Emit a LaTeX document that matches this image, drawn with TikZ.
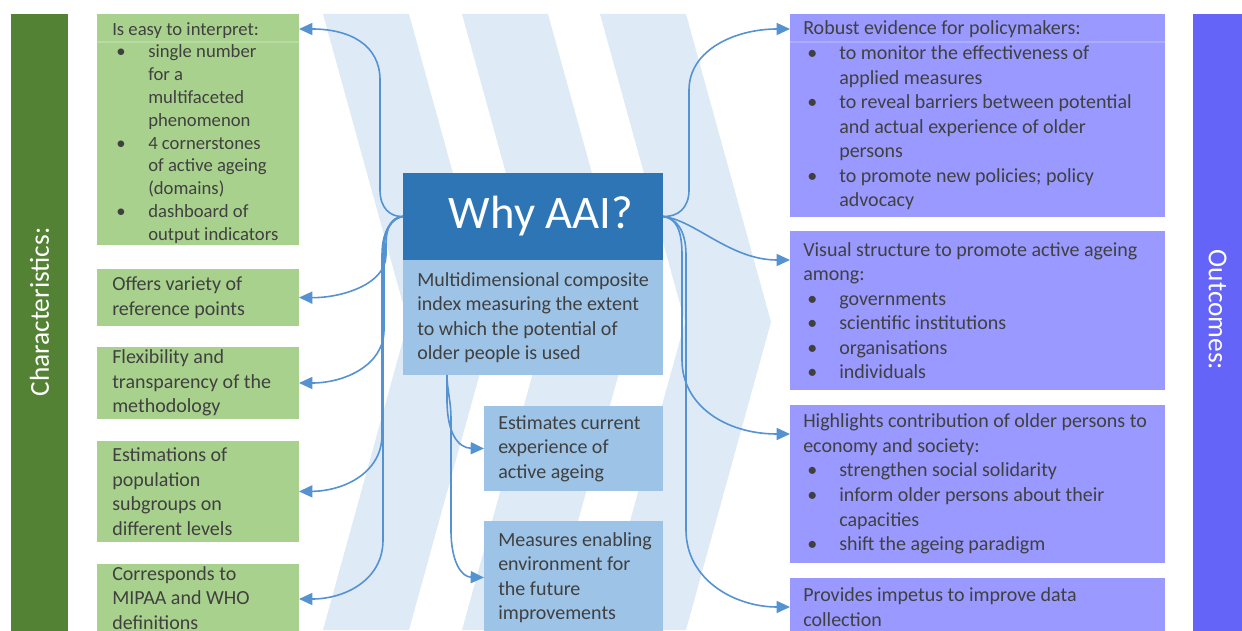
\documentclass[tikz,border=0pt]{standalone}
\usepackage{fontspec}
\setmainfont{Carlito}
\usetikzlibrary{arrows.meta}
\definecolor{dgreen}{HTML}{548235}
\definecolor{lgreen}{HTML}{A9D18E}
\definecolor{purp}{HTML}{9999FF}
\definecolor{dpurp}{HTML}{6464F8}
\definecolor{whyblue}{HTML}{2E75B6}
\definecolor{lblue}{HTML}{9DC3E6}
\definecolor{chev}{HTML}{DEEBF7}
\definecolor{arrc}{HTML}{5592D2}
\definecolor{txtc}{HTML}{404040}
\newcommand\bul{\makebox[27pt][l]{\hspace{3pt}\textbullet}}
\newcommand\ind{\hspace*{27pt}}
\begin{document}
\begin{tikzpicture}[x=0.75pt,y=-0.75pt,
  box/.style={anchor=north west, inner sep=0pt, outer sep=0pt, draw=none},
  gbox/.style={box, fill=lgreen, minimum width=151.5pt},
  pbox/.style={box, fill=purp, minimum width=281.25pt},
  bbox/.style={box, fill=lblue},
  txt/.style={anchor=west, inner sep=0pt, align=left, text=txtc, font=\fontsize{15pt}{18.4pt}\selectfont},
  side/.style={text=white, inner sep=0pt, font=\fontsize{20.5pt}{24pt}\selectfont},
  arr/.style={draw=arrc, line width=1.2pt, -{Triangle[length=10pt,width=9pt]}},
  divider/.style={draw=white, opacity=0.2, line width=0.8pt}]
\path[use as bounding box] (0,0) rectangle (1242,631);
\clip (0,0) rectangle (1242,631);
\fill[white] (0,0) rectangle (1242,631);
% background chevrons
\foreach \L in {323,462,600}{
  \fill[chev] (\L,14) -- ++(86,0) -- ++(85,308) -- ++(-85,308) -- ++(-86,0) -- ++(85,-308) -- cycle;
}
% side bars
\node[box, fill=dgreen, minimum width=42.75pt, minimum height=465pt] (barL) at (11,14) {};
\node[box, fill=dpurp, minimum width=40pt, minimum height=465pt] (barR) at (1193,14) {};
\node[side, rotate=90] (charT) at (39.5,312) {Characteristics:};
\node[side, rotate=-90] (outT) at (1217.5,310) {Outcomes:};
% green boxes
\node[gbox, minimum height=173.25pt] (g1) at (97,14) {};
\node[gbox, minimum height=42.75pt] (g2) at (97,269) {};
\node[gbox, minimum height=54pt] (g3) at (97,347) {};
\node[gbox, minimum height=75.75pt] (g4) at (97,441) {};
\node[gbox, minimum height=52.5pt] (g5) at (97,564) {};
\draw[divider] (g1.west |- 0,42) -- (g1.east |- 0,42);
% centre boxes
\node[box, fill=whyblue, minimum width=195pt, minimum height=65.25pt] (why) at (403,173) {};
\node[bbox, minimum width=195pt, minimum height=86.25pt] (desc) at (403,260) {};
\node[bbox, minimum width=134.25pt, minimum height=63.75pt] (est) at (484,406) {};
\node[bbox, minimum width=134.25pt, minimum height=84.75pt] (meas) at (484,521) {};
% purple boxes
\node[pbox, minimum height=152.25pt] (p1) at (790,14) {};
\node[pbox, minimum height=119.25pt] (p2) at (790,231) {};
\node[pbox, minimum height=118.5pt] (p3) at (790,405) {};
\node[pbox, minimum height=43.5pt] (p4) at (790,578) {};
\draw[divider] (p1.west |- 0,42) -- (p1.east |- 0,42);
% texts
\node[txt, font=\fontsize{14pt}{17.1pt}\selectfont] (g1t) at ([xshift=11.25pt,yshift=-2.5pt]g1.west) {Is easy to interpret:\\ \bul single number\\ \ind for a\\ \ind multifaceted\\ \ind phenomenon\\ \bul 4 cornerstones\\ \ind of active ageing\\ \ind (domains)\\ \bul dashboard of\\ \ind output indicators};
\node[txt] (g2t) at ([xshift=11.25pt]g2.west) {Offers variety of\\reference points};
\node[txt] (g3t) at ([xshift=11.25pt]g3.west) {Flexibility and\\transparency of the\\methodology};
\node[txt] (g4t) at ([xshift=11.25pt]g4.west) {Estimations of\\population\\subgroups on\\different levels};
\node[txt] (g5t) at ([xshift=11.25pt,yshift=1pt]g5.west) {Corresponds to\\MIPAA and WHO\\definitions};
\node[text=white, inner sep=0pt, font=\fontsize{35pt}{40pt}\selectfont] (whyt) at ([xshift=6pt]why.center) {Why AAI?};
\node[txt] (desct) at ([xshift=10.5pt]desc.west) {Multidimensional composite\\index measuring the extent\\to which the potential of\\older people is used};
\node[txt] (estt) at ([xshift=10.5pt]est.west) {Estimates current\\experience of\\active ageing};
\node[txt] (meast) at ([xshift=10.5pt]meas.west) {Measures enabling\\environment for\\the future\\improvements};
\node[txt] (p1t) at ([xshift=9.75pt]p1.west) {Robust evidence for policymakers:\\ \bul to monitor the effectiveness of\\ \ind applied measures\\ \bul to reveal barriers between potential\\ \ind and actual experience of older\\ \ind persons\\ \bul to promote new policies; policy\\ \ind advocacy};
\node[txt] (p2t) at ([xshift=9.75pt]p2.west) {Visual structure to promote active ageing\\among:\\ \bul governments\\ \bul scientific institutions\\ \bul organisations\\ \bul individuals};
\node[txt] (p3t) at ([xshift=9.75pt]p3.west) {Highlights contribution of older persons to\\economy and society:\\ \bul strengthen social solidarity\\ \bul inform older persons about their\\ \ind capacities\\ \bul shift the ageing paradigm};
\node[txt] (p4t) at ([xshift=9.75pt]p4.west) {Provides impetus to improve data\\collection};
% left connectors
\draw[arr] (why.west) .. controls (390,217) and (380,208) .. (380,190) -- (380,80) .. controls (380,45) and (350,29) .. (g1.east |- 0,29);
\draw[arr] (why.west) .. controls (392,217) and (386,226) .. (386,245) -- (386,255) .. controls (386,285) and (340,298) .. (g2.east);
\draw[arr] (why.west) .. controls (392,218) and (384,228) .. (384,250) -- (384,330) .. controls (384,365) and (345,383) .. (g3.east);
\draw[arr] (why.west) .. controls (392,218) and (382,230) .. (382,255) -- (382,435) .. controls (382,472) and (345,491) .. (g4.east);
\draw[arr] (why.west) .. controls (392,218) and (383,230) .. (383,255) -- (383,540) .. controls (383,580) and (345,599) .. (g5.east);
% right connectors
\draw[arr] (why.east) .. controls (678,217) and (689,208) .. (689,190) -- (689,90) .. controls (689,50) and (735,29) .. (p1.west |- 0,29);
\draw[arr] (why.east) .. controls (695,220) and (730,260) .. (p2.west |- 0,260);
\draw[arr] (why.east) .. controls (676,218) and (682,230) .. (682,255) -- (682,360) .. controls (682,405) and (725,434) .. (p3.west |- 0,434);
\draw[arr] (why.east) .. controls (676,218) and (686,230) .. (686,255) -- (686,530) .. controls (686,580) and (735,607) .. (p4.west);
% centre connectors
\coordinate (ds) at ([xshift=33pt]desc.south west);
\draw[arr] (ds) -- (447,400) .. controls (447,433) and (458,448) .. (est.west);
\draw[arr] (ds) .. controls (447,390) and (451,400) .. (451,420) -- (451,530) .. controls (451,563) and (462,577) .. (meas.west);
\end{tikzpicture}
\end{document}
